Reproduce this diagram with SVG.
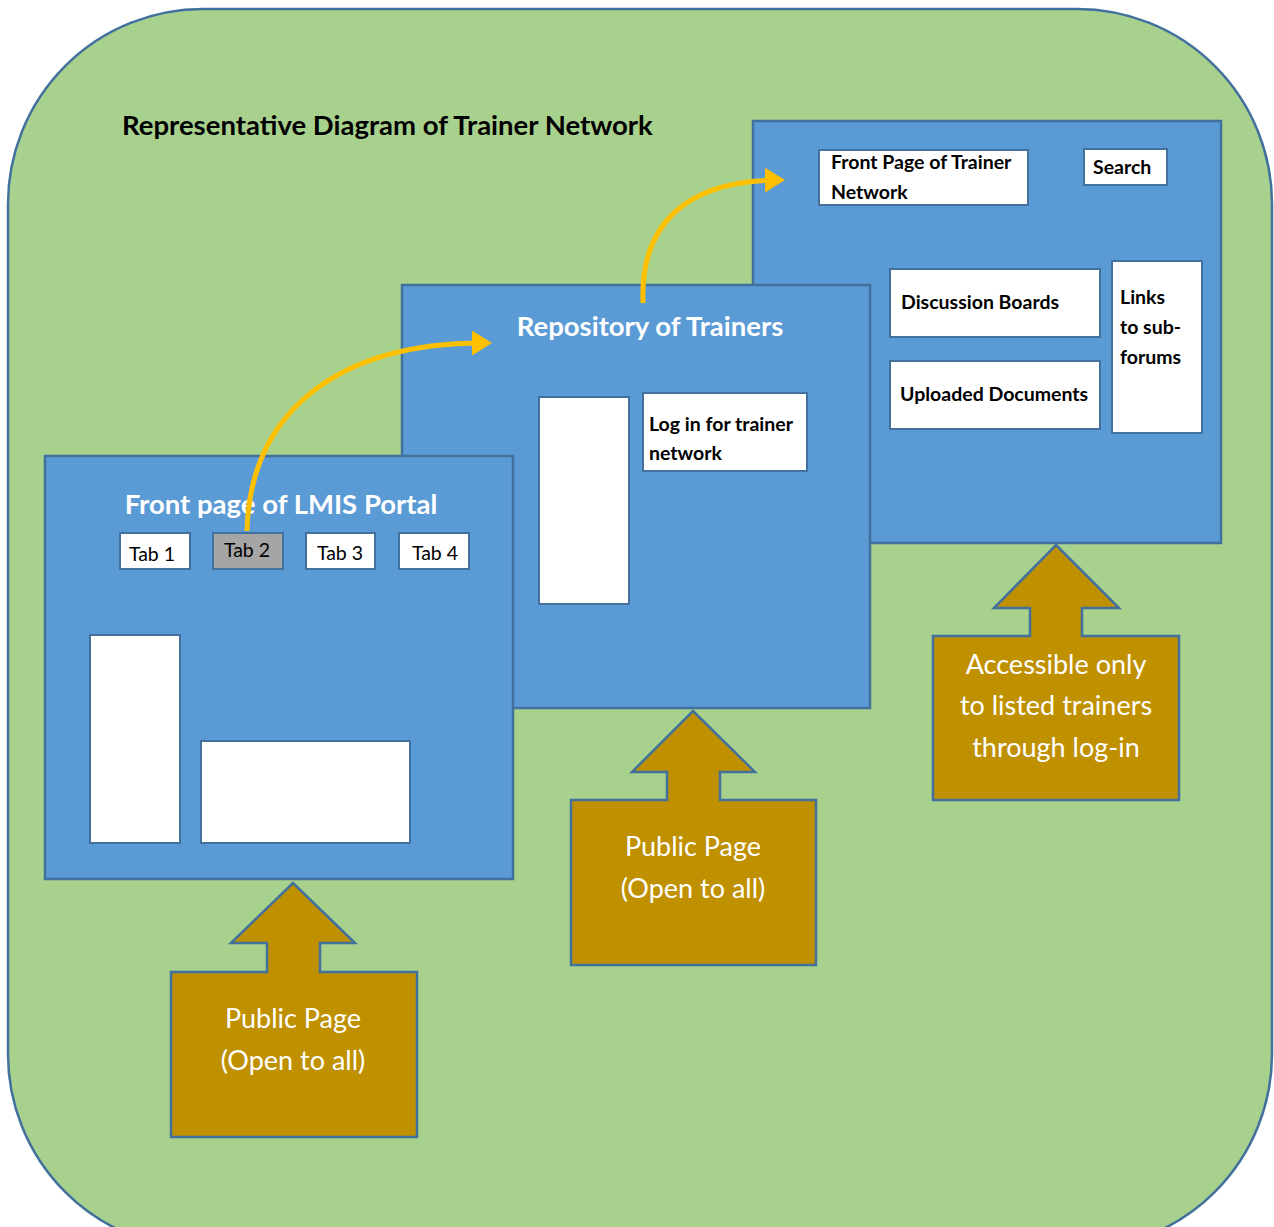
<svg xmlns="http://www.w3.org/2000/svg" width="1274" height="1227" viewBox="0 0 1274 1227">
<style>
.panel{fill:#5B9BD5;stroke:#41719C;stroke-width:2.5}
.wbox{fill:#FFFFFF;stroke:#41719C;stroke-width:2}
.tab2{fill:#A5A5A5;stroke:#41719C;stroke-width:2}
.callout{fill:#BF9000;stroke:#41719C;stroke-width:2.5}
.ptitle{font-family:Lato,"Open Sans",sans-serif;font-weight:bold;font-size:27.5px;fill:#FFFFFF;text-anchor:middle}
.lbl{font-family:Lato,"Open Sans",sans-serif;font-weight:bold;font-size:19.5px;fill:#000000}
.tab{font-family:Lato,"Open Sans",sans-serif;font-size:19.5px;fill:#000000;text-anchor:middle}
.ctext{font-family:Lato,"Open Sans",sans-serif;font-size:27px;fill:#FFFFFF;text-anchor:middle}
.conn{fill:none;stroke:#FFC000;stroke-width:5}
</style>
<defs>
<marker id="ah" markerWidth="5" markerHeight="5" refX="2.2" refY="2.5" orient="auto" markerUnits="strokeWidth">
<path d="M0,0 L4,2.5 L0,5 Z" fill="#FFC000"/>
</marker>
</defs>
<g id="background">
<rect x="8" y="9" width="1264" height="1240" rx="195" ry="195" fill="#A9D18E" stroke="#41719C" stroke-width="2.5"/>
<text x="122" y="135" font-family="Lato,'Open Sans',sans-serif" font-weight="bold" font-size="27.5" fill="#000000">Representative Diagram of Trainer Network</text>
</g>
<g id="trainer-network-page">
<rect class="panel" x="753" y="121" width="468" height="422"/>
<rect class="wbox" x="819" y="150" width="209" height="55"/>
<text class="lbl" x="831" y="169">Front Page of Trainer</text>
<text class="lbl" x="831" y="199">Network</text>
<rect class="wbox" x="1084" y="149" width="83" height="36"/>
<text class="lbl" x="1093" y="174">Search</text>
<rect class="wbox" x="890" y="269" width="210" height="68"/>
<text class="lbl" x="901" y="309">Discussion Boards</text>
<rect class="wbox" x="890" y="361" width="210" height="68"/>
<text class="lbl" x="900" y="401">Uploaded Documents</text>
<rect class="wbox" x="1112" y="261" width="90" height="172"/>
<text class="lbl" x="1120" y="304">Links</text>
<text class="lbl" x="1120" y="334">to sub-</text>
<text class="lbl" x="1120" y="364">forums</text>
</g>
<g id="repository-page">
<rect class="panel" x="402" y="285" width="468" height="423"/>
<text class="ptitle" x="650" y="336">Repository of Trainers</text>
<rect class="wbox" x="539" y="397" width="90" height="207"/>
<rect class="wbox" x="643" y="393" width="164" height="78"/>
<text class="lbl" x="649" y="431">Log in for trainer</text>
<text class="lbl" x="649" y="460">network</text>
</g>
<g id="lmis-front-page">
<rect class="panel" x="45" y="456" width="468" height="423"/>
<text class="ptitle" x="281" y="514">Front page of LMIS Portal</text>
<rect class="wbox" x="120" y="533" width="70" height="36"/>
<text class="tab" x="152" y="561">Tab 1</text>
<rect class="tab2" x="213" y="533" width="70" height="36"/>
<text class="tab" x="247" y="557">Tab 2</text>
<rect class="wbox" x="306" y="533" width="69" height="36"/>
<text class="tab" x="340" y="560">Tab 3</text>
<rect class="wbox" x="399" y="533" width="70" height="36"/>
<text class="tab" x="435" y="560">Tab 4</text>
<rect class="wbox" x="90" y="635" width="90" height="208"/>
<rect class="wbox" x="201" y="741" width="209" height="102"/>
</g>
<g id="callout-public-1">
<path class="callout" d="M293,883 L355,943 L320,943 L320,972 L417,972 L417,1137 L171,1137 L171,972 L267,972 L267,943 L231,943 Z"/>
<text class="ctext" x="293" y="1028">Public Page</text>
<text class="ctext" x="293" y="1070">(Open to all)</text>
</g>
<g id="callout-public-2">
<path class="callout" d="M693,711 L755,772 L720,772 L720,800 L816,800 L816,965 L571,965 L571,800 L667,800 L667,772 L632,772 Z"/>
<text class="ctext" x="693" y="856">Public Page</text>
<text class="ctext" x="693" y="898">(Open to all)</text>
</g>
<g id="callout-login">
<path class="callout" d="M1056,545 L1119,608 L1082,608 L1082,636 L1179,636 L1179,800 L933,800 L933,636 L1030,636 L1030,608 L994,608 Z"/>
<text class="ctext" x="1056" y="674">Accessible only</text>
<text class="ctext" x="1056" y="715">to listed trainers</text>
<text class="ctext" x="1056" y="757">through log-in</text>
</g>
<g id="connectors">
<path class="conn" d="M247,531 C250,410 340,343 483,343" marker-end="url(#ah)"/>
<path class="conn" d="M643,303 C640,225 685,181 776,180" marker-end="url(#ah)"/>
</g>
</svg>
